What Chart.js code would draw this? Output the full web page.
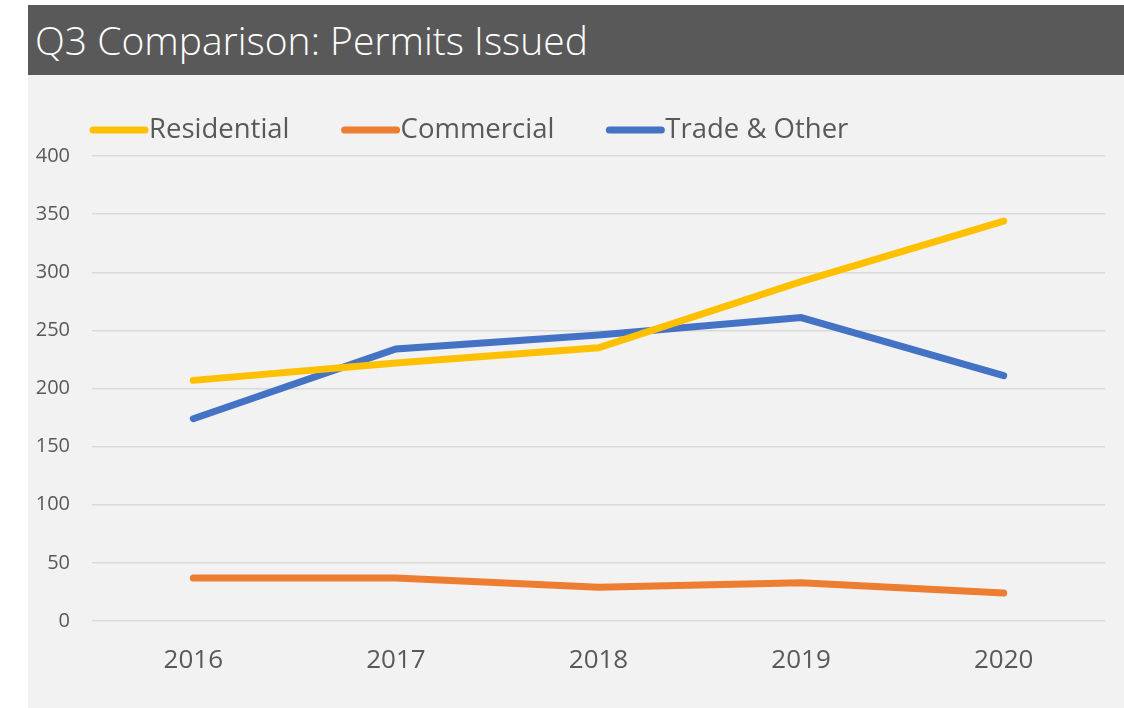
<!DOCTYPE html>
<html>
<head>
<meta charset="utf-8">
<script src="https://cdn.jsdelivr.net/npm/chart.js@4/dist/chart.umd.min.js"></script>
<style>
  html, body { margin: 0; padding: 0; background: #ffffff; width: 1124px; height: 708px; overflow: hidden; }
  #title { position: absolute; left: 28px; top: 5px; width: 1096px; height: 70px; background: #595959;
           color: #ffffff; font-family: "Open Sans", sans-serif; font-weight: 300; font-size: 39px;
           line-height: 70px; padding-left: 7px; box-sizing: border-box; white-space: nowrap; }
  #wrap { position: absolute; left: 28px; top: 75px; width: 1096px; height: 633px; background: #f2f2f2; }
</style>
</head>
<body>
<div id="title">Q3 Comparison: Permits Issued</div>
<div id="wrap"><canvas id="c" width="1096" height="633"></canvas></div>
<script>
const categories = ["2016", "2017", "2018", "2019", "2020"];
const residential = [207, 222, 235, 292, 344];
const commercial = [37, 37, 29, 33, 24];
const tradeOther = [174, 234, 246, 261, 211];
const seriesNames = ["Residential", "Commercial", "Trade & Other"];
const seriesColors = ["#FFC000", "#ED7D31", "#4472C4"];
const yTicks = [0, 50, 100, 150, 200, 250, 300, 350, 400];

const legendPlugin = {
  id: 'customLegend',
  afterDraw(chart) {
    const ctx = chart.ctx;
    ctx.save();
    ctx.font = '27.5px "Open Sans", sans-serif';
    ctx.textBaseline = 'middle';
    let x = 62;
    const y = 55;
    chart.data.datasets.forEach(ds => {
      ctx.strokeStyle = ds.borderColor;
      ctx.lineWidth = 7;
      ctx.lineCap = 'round';
      ctx.beginPath();
      ctx.moveTo(x + 3, y);
      ctx.lineTo(x + 55, y);
      ctx.stroke();
      ctx.fillStyle = '#595959';
      ctx.fillText(ds.label, x + 59, y);
      x += 59 + ctx.measureText(ds.label).width + 52;
    });
    ctx.restore();
  }
};

const datasets = [residential, commercial, tradeOther].map((d, i) => ({
  label: seriesNames[i],
  data: d,
  borderColor: seriesColors[i],
  backgroundColor: seriesColors[i],
  borderWidth: 7,
  borderCapStyle: 'round',
  pointRadius: 0,
  tension: 0,
  fill: false
}));

new Chart(document.getElementById('c'), {
  type: 'line',
  data: { labels: categories, datasets },
  plugins: [legendPlugin],
  options: {
    responsive: false,
    animation: false,
    layout: { padding: { top: 81, right: 19, left: 0, bottom: 0 } },
    plugins: { legend: { display: false }, tooltip: { enabled: false }, title: { display: false } },
    scales: {
      x: {
        offset: true,
        grid: { display: false, drawTicks: false },
        border: { display: false },
        ticks: { color: '#595959', font: { family: '"Open Sans", sans-serif', size: 26 }, padding: 24 },
        afterFit(scale) { scale.height = 87; }
      },
      y: {
        min: 0, max: 400,
        afterBuildTicks(scale) { scale.ticks = yTicks.map(v => ({ value: v })); },
        grid: { color: '#d9d9d9', lineWidth: 1.5, drawTicks: false },
        border: { display: false },
        ticks: { color: '#595959', font: { family: '"Open Sans", sans-serif', size: 20 }, padding: 22 },
        afterFit(scale) { scale.width = 64; }
      }
    }
  }
});
</script>
</body>
</html>
